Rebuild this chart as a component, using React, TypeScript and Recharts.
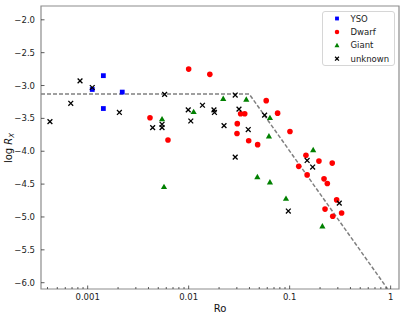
import React from 'react';
import { ScatterChart, Scatter, XAxis, YAxis, Legend, ReferenceArea } from 'recharts';

// ---- data ----
const seriesNames = ['YSO', 'Dwarf', 'Giant', 'unknown'];

const ysoRo = [0.00111, 0.00143, 0.00143, 0.0022];
const ysoLogRx = [-3.06, -2.85, -3.35, -3.1];

const dwarfRo = [0.00414, 0.00624, 0.01, 0.0162, 0.0303, 0.0301, 0.0327, 0.0359, 0.0393, 0.0482, 0.0586, 0.076, 0.1007, 0.123, 0.145, 0.149, 0.195, 0.219, 0.224, 0.236, 0.264, 0.267, 0.292, 0.327];
const dwarfLogRx = [-3.49, -3.83, -2.75, -2.83, -3.58, -3.73, -3.43, -3.43, -3.84, -3.9, -3.23, -3.42, -3.7, -4.23, -4.06, -4.36, -4.15, -4.42, -4.88, -4.49, -4.18, -4.99, -4.74, -4.94];

const giantRo = [0.00545, 0.0057, 0.0112, 0.022, 0.0372, 0.0479, 0.0624, 0.0638, 0.0638, 0.092, 0.171, 0.211];
const giantLogRx = [-3.51, -4.54, -3.4, -3.2, -3.21, -4.39, -3.77, -3.49, -4.47, -4.72, -3.98, -5.14];

const unknownRo = [0.000423, 0.00068, 0.00084, 0.00111, 0.00206, 0.0044, 0.00545, 0.00545, 0.00578, 0.0099, 0.0105, 0.0137, 0.0178, 0.018, 0.0224, 0.0289, 0.0289, 0.0315, 0.0389, 0.0565, 0.097, 0.149, 0.169, 0.31];
const unknownLogRx = [-3.55, -3.27, -2.93, -3.03, -3.41, -3.64, -3.59, -3.64, -3.135, -3.37, -3.54, -3.3, -3.37, -3.41, -3.61, -3.145, -4.09, -3.36, -3.67, -3.45, -4.91, -4.14, -4.24, -4.79];

const relationRo = [0.000345, 0.0398, 0.933];
const relationLogRx = [-3.13, -3.13, -6.096];

const xDomain = [0.000345, 1.21];
const yDomain = [-6.096, -1.79];
const xMajorTicks = [0.001, 0.01, 0.1, 1];
const xTickLabels = ['0.001', '0.01', '0.1', '1'];
const xMinorTicks = [0.0004, 0.0005, 0.0006, 0.0007, 0.0008, 0.0009,
  0.002, 0.003, 0.004, 0.005, 0.006, 0.007, 0.008, 0.009,
  0.02, 0.03, 0.04, 0.05, 0.06, 0.07, 0.08, 0.09,
  0.2, 0.3, 0.4, 0.5, 0.6, 0.7, 0.8, 0.9];
const yTicks = [-6, -5.5, -5, -4.5, -4, -3.5, -3, -2.5, -2];

const zip = (xs: number[], ys: number[]) => xs.map((x, i) => ({ x, y: ys[i] }));

const FONT = '"DejaVu Sans", sans-serif';

// ---- marker shapes ----
const Square = (p: any) => {
  const s = (p.scale || 1) * 4.8;
  return <rect x={p.cx - s / 2} y={p.cy - s / 2} width={s} height={s} fill="#0000ff" />;
};
const Dot = (p: any) => <circle cx={p.cx} cy={p.cy} r={(p.scale || 1) * 2.8} fill="#ff0000" />;
const Tri = (p: any) => {
  const k = p.scale || 1;
  return (
    <path
      d={`M${p.cx},${p.cy - 3.1 * k}L${p.cx + 3.1 * k},${p.cy + 2.3 * k}L${p.cx - 3.1 * k},${p.cy + 2.3 * k}Z`}
      fill="#008000"
    />
  );
};
const XMark = (p: any) => {
  const h = (p.scale || 1) * 2.4;
  return (
    <path
      d={`M${p.cx - h},${p.cy - h}L${p.cx + h},${p.cy + h}M${p.cx - h},${p.cy + h}L${p.cx + h},${p.cy - h}`}
      stroke="#000"
      strokeWidth={1.3}
      fill="none"
    />
  );
};
const shapeByName: Record<string, any> = { YSO: Square, Dwarf: Dot, Giant: Tri, unknown: XMark };

// ---- ticks ----
const XTick = (props: any) => {
  const { x, y, payload } = props;
  const v = payload.value;
  const mi = xMajorTicks.findIndex((m) => Math.abs(m - v) / m < 1e-6);
  const major = mi >= 0;
  return (
    <g>
      <line x1={x} x2={x} y1={y} y2={y - (major ? 3.5 : 2)} stroke="#333" strokeWidth={0.8} />
      {major && (
        <text x={x} y={y + 10.5} textAnchor="middle" fontSize={8.5} fill="#222" fontFamily={FONT}>
          {xTickLabels[mi]}
        </text>
      )}
    </g>
  );
};

const YTick = (props: any) => {
  const { x, y, payload } = props;
  const v = payload.value as number;
  const label = (v < 0 ? '\u2212' : '') + Math.abs(v).toFixed(1);
  return (
    <g>
      <line x1={x} x2={x + 3.5} y1={y} y2={y} stroke="#333" strokeWidth={0.8} />
      <text x={x - 6} y={y + 3} textAnchor="end" fontSize={8.5} fill="#222" fontFamily={FONT}>
        {label}
      </text>
    </g>
  );
};

const LegendBox = (props: any) => {
  const items = (props.payload || [])
    .filter((e: any) => shapeByName[e.value])
    .sort((a: any, b: any) => seriesNames.indexOf(a.value) - seriesNames.indexOf(b.value));
  return (
    <div
      style={{
        width: 73,
        height: 55,
        boxSizing: 'border-box',
        border: '1px solid #d6d6d6',
        borderRadius: 3,
        background: 'rgba(255,255,255,0.85)',
      }}
    >
      <svg width={71} height={53} style={{ display: 'block' }}>
        {items.map((e: any, i: number) => {
          const S = shapeByName[e.value];
          const cy = 6.5 + i * 13.4;
          return (
            <g key={e.value}>
              <S cx={14} cy={cy} scale={0.8} />
              <text x={27.5} y={cy + 3} fontSize={8.5} fill="#222" fontFamily={FONT}>
                {e.value}
              </text>
            </g>
          );
        })}
      </svg>
    </div>
  );
};

export default function App() {
  return (
    <div>
      <style>{'body{margin:0}'}</style>
      <ScatterChart width={407} height={322} margin={{ top: 6, right: 8, bottom: 0, left: 0 }}>
        <XAxis
          dataKey="x"
          type="number"
          scale="log"
          domain={xDomain}
          allowDataOverflow
          ticks={[...xMinorTicks, ...xMajorTicks].sort((a, b) => a - b)}
          interval={0}
          tick={<XTick />}
          tickLine={false}
          axisLine={false}
          tickSize={0}
          tickMargin={0}
          height={33}
          label={{
            content: () => (
              <text x={220} y={311.5} textAnchor="middle" fontSize={10} fill="#111" fontFamily={FONT}>
                Ro
              </text>
            ),
          }}
        />
        <YAxis
          dataKey="y"
          type="number"
          domain={yDomain}
          allowDataOverflow
          ticks={yTicks}
          interval={0}
          tick={<YTick />}
          tickLine={false}
          axisLine={false}
          tickSize={0}
          tickMargin={0}
          width={41}
          label={{
            content: () => (
              <text
                x={12}
                y={148}
                transform="rotate(-90 12 148)"
                textAnchor="middle"
                fontSize={10}
                fill="#111"
                fontFamily={FONT}
              >
                log <tspan fontStyle="italic">R</tspan>
                <tspan fontStyle="italic" fontSize={7} dy={2}>X</tspan>
              </text>
            ),
          }}
        />
        <ReferenceArea
          x1={xDomain[0]}
          x2={xDomain[1]}
          y1={yDomain[0]}
          y2={yDomain[1]}
          fill="none"
          stroke="#8c8c8c"
          strokeWidth={1.2}
          ifOverflow="visible"
        />
        <Scatter
          name="relation"
          data={zip(relationRo, relationLogRx)}
          line={{ stroke: '#808080', strokeWidth: 1.5, strokeDasharray: '4 2' }}
          lineType="joint"
          shape={() => <g />}
          legendType="none"
          isAnimationActive={false}
        />
        <Scatter name="YSO" data={zip(ysoRo, ysoLogRx)} shape={Square} fill="#0000ff" isAnimationActive={false} />
        <Scatter name="Dwarf" data={zip(dwarfRo, dwarfLogRx)} shape={Dot} fill="#ff0000" isAnimationActive={false} />
        <Scatter name="Giant" data={zip(giantRo, giantLogRx)} shape={Tri} fill="#008000" isAnimationActive={false} />
        <Scatter name="unknown" data={zip(unknownRo, unknownLogRx)} shape={XMark} fill="#000" isAnimationActive={false} />
        <Legend
          layout="vertical"
          align="center"
          verticalAlign="middle"
          wrapperStyle={{ left: 322, top: 11, width: 73, height: 55, margin: 0, padding: 0 }}
          content={<LegendBox />}
        />
      </ScatterChart>
    </div>
  );
}
